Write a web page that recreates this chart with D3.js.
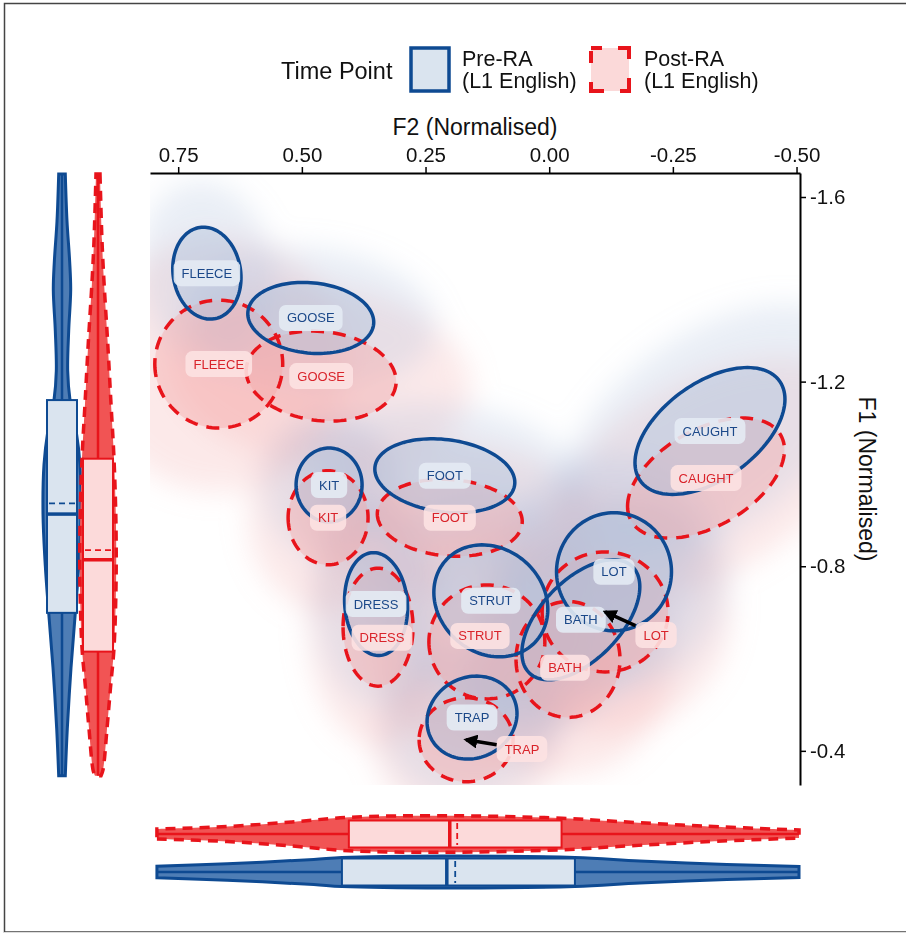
<!DOCTYPE html>
<html><head><meta charset="utf-8">
<script src="https://cdn.jsdelivr.net/npm/d3@7"></script>
<style>body{margin:0;background:#fff}svg{display:block}</style>
</head><body><svg id="c" width="906" height="934"></svg>
<script>
// ---------------- DATA ----------------
const vowels   = ["FLEECE","GOOSE","KIT","FOOT","DRESS","STRUT","LOT","BATH","TRAP","CAUGHT"];
// Pre-RA ellipses (mean F2, mean F1, sd F2, sd F1, correlation)
const preF2    = [0.692, 0.482, 0.445, 0.211, 0.350, 0.118, -0.131, -0.064, 0.156, -0.325];
const preF1    = [-1.435,-1.338,-0.976,-0.996,-0.718,-0.725,-0.788,-0.684,-0.472,-1.093];
const preSdF2  = [0.0690,0.1273,0.0667,0.1415,0.0637,0.1152,0.1162,0.1192,0.0909,0.1516];
const preSdF1  = [0.0996,0.0770,0.0801,0.0801,0.1115,0.1213,0.1278,0.1300,0.0899,0.1375];
const preRho   = [-0.10,-0.12,0.00,-0.18,-0.08,-0.15,0.00,0.55,0.10,0.50];
// Post-RA ellipses
const postF2   = [0.668, 0.461, 0.447, 0.201, 0.346, 0.126, -0.113, -0.038, 0.168, -0.317];
const postF1   = [-1.238,-1.212,-0.905,-0.905,-0.668,-0.636,-0.701,-0.598,-0.424,-0.991];
const postSdF2 = [0.1293,0.1516,0.0808,0.1465,0.0707,0.1172,0.1273,0.1051,0.0950,0.1586];
const postSdF1 = [0.1386,0.0975,0.1018,0.0834,0.1278,0.1235,0.1300,0.1256,0.0910,0.1300];
const postRho  = [0.00,-0.12,0.00,-0.10,0.00,0.00,0.00,0.00,0.00,0.47];
// Post-RA labels placed away from their means (others sit on the mean)
const postLabelVowel = ["LOT","TRAP","DRESS","STRUT","BATH"];
const postLabelF2    = [-0.216, 0.055, 0.338, 0.140, -0.032];
const postLabelF1    = [-0.651, -0.404, -0.645, -0.649, -0.580];
const postLabelArrow = [true, true, false, false, false];

// Marginal distributions: F1 (left)
const f1Grid     = [-1.650,-1.548,-1.459,-1.399,-1.310,-1.223,-1.160,-1.095,-1.020,-0.913,-0.801,-0.699,-0.580,-0.448,-0.346];
const preF1Dens  = [3.3,5.0,7.7,8.7,6.7,5.7,8.0,14.0,18.0,19.0,16.7,13.3,9.0,5.3,3.3];
const f1GridPost = [-1.650,-1.505,-1.416,-1.284,-1.152,-1.033,-0.887,-0.755,-0.623,-0.537,-0.448,-0.359,-0.346];
const postF1Dens = [2.0,4.0,6.0,9.7,13.0,16.0,18.0,18.0,16.0,12.5,9.0,5.0,3.0];
// Marginal distributions: F2 (bottom)
const f2GridPre  = [0.793,0.651,0.476,0.419,0.213,-0.052,-0.183,-0.359,-0.505];
const preF2Dens  = [5.8,8.3,12.5,14.5,16.0,14.5,11.0,7.5,5.5];
const f2GridPost = [0.793,0.651,0.520,0.405,0.213,-0.026,-0.139,-0.315,-0.505];
const postF2Dens = [5.0,7.5,12.0,16.7,18.3,15.8,12.5,7.8,4.0];
// Box statistics [Q1, median, Q3, mean]
const preF1Box  = [-1.160,-0.913,-0.699,-0.936];
const postF1Box = [-1.033,-0.814,-0.615,-0.835];
const preF2Box  = [0.419,0.207,-0.052,0.190];
const postF2Box = [0.405,0.201,-0.025,0.186];

const xTicks = [0.75,0.50,0.25,0.00,-0.25,-0.50];
const yTicks = [-1.6,-1.2,-0.8,-0.4];
const legendLabels = [["Pre-RA","(L1 English)"],["Post-RA","(L1 English)"]];

// ---------------- STYLE ----------------
const BLUE="#0e4a92", RED="#e8141b";
const FONT="'Liberation Sans', Arial, Helvetica, sans-serif";
const svg=d3.select("#c");
const x=d3.scaleLinear().domain([0.807,-0.507]).range([150,800]);
const y=d3.scaleLinear().domain([-1.652,-0.326]).range([173,785]);

// frame
svg.append("rect").attr("x",4.5).attr("y",3.5).attr("width",920).attr("height",928.5)
  .attr("fill","none").attr("stroke","#444").attr("stroke-width",1.5);
svg.append("line").attr("x1",4).attr("x2",906).attr("y1",932.5).attr("y2",932.5).attr("stroke","#ddd");

const defs=svg.append("defs");
defs.append("clipPath").attr("id","panel").append("rect").attr("x",150).attr("y",173).attr("width",650).attr("height",612);
defs.append("filter").attr("id","blur").attr("x","-50%").attr("y","-50%").attr("width","200%").attr("height","200%")
  .append("feGaussianBlur").attr("stdDeviation",14);
defs.append("marker").attr("id","arr").attr("viewBox","0 0 10 10").attr("refX",8).attr("refY",5)
  .attr("markerWidth",4).attr("markerHeight",4).attr("orient","auto")
  .append("path").attr("d","M0,0L10,5L0,10Z").attr("fill","#000");

function ellipsePts(cx,cy,sx,sy,r,k){
  const pts=[]; const s=Math.sqrt(1-r*r);
  for(let i=0;i<120;i++){const t=i/120*2*Math.PI;
    pts.push([x(cx+k*sx*Math.cos(t)), y(cy+k*sy*(r*Math.cos(t)+s*Math.sin(t)))]);}
  return pts;
}
const closed=d3.line().curve(d3.curveLinearClosed);

const pre = vowels.map((v,i)=>({v,f2:preF2[i],f1:preF1[i],sx:preSdF2[i],sy:preSdF1[i],r:preRho[i]}));
const post= vowels.map((v,i)=>({v,f2:postF2[i],f1:postF1[i],sx:postSdF2[i],sy:postSdF1[i],r:postRho[i]}));

const panel=svg.append("g").attr("clip-path","url(#panel)");
// soft haze standing in for the dense token cloud
const haze=panel.append("g").attr("filter","url(#blur)");
post.forEach(d=>haze.append("path").attr("d",closed(ellipsePts(d.f2,d.f1,d.sx,d.sy,d.r,2.0)))
  .attr("fill","#f3a9a9").attr("opacity",0.26));
pre.forEach(d=>haze.append("path").attr("d",closed(ellipsePts(d.f2,d.f1,d.sx,d.sy,d.r,2.0)))
  .attr("fill","#a9bfdc").attr("opacity",0.26));

// ellipse fills
post.forEach(d=>panel.append("path").attr("d",closed(ellipsePts(d.f2,d.f1,d.sx,d.sy,d.r,1)))
  .attr("fill","#f4a6a6").attr("fill-opacity",0.4));
pre.forEach(d=>panel.append("path").attr("d",closed(ellipsePts(d.f2,d.f1,d.sx,d.sy,d.r,1)))
  .attr("fill","#a9c0dd").attr("fill-opacity",0.4));
// outlines
post.forEach(d=>panel.append("path").attr("d",closed(ellipsePts(d.f2,d.f1,d.sx,d.sy,d.r,1)))
  .attr("fill","none").attr("stroke",RED).attr("stroke-width",3.5).attr("stroke-dasharray","13,9"));
pre.forEach(d=>panel.append("path").attr("d",closed(ellipsePts(d.f2,d.f1,d.sx,d.sy,d.r,1)))
  .attr("fill","none").attr("stroke",BLUE).attr("stroke-width",3.5));

// labels
const labG=svg.append("g");
function label(px,py,text,fill,col){
  const g=labG.append("g").attr("transform",`translate(${px},${py})`);
  const t=g.append("text").text(text).attr("text-anchor","middle").attr("dy","0.35em")
    .attr("font-family",FONT).attr("font-size",13).attr("fill",col);
  const w=t.node().getComputedTextLength()+16, h=26;
  g.insert("rect","text").attr("x",-w/2).attr("y",-h/2).attr("width",w).attr("height",h)
    .attr("rx",7).attr("fill",fill).attr("fill-opacity",0.9);
  return {w,h};
}
const arrows=[];
post.forEach(d=>{
  const k=postLabelVowel.indexOf(d.v);
  let lx=x(d.f2), ly=y(d.f1);
  if(k>=0){lx=x(postLabelF2[k]); ly=y(postLabelF1[k]);}
  const b=label(lx,ly,d.v,"#fde2e2","#d9232a");
  if(k>=0 && postLabelArrow[k]) arrows.push({lx,ly,tx:x(d.f2),ty:y(d.f1),w:b.w,h:b.h});
});
pre.forEach(d=>label(x(d.f2),y(d.f1),d.v,"#e4ebf4","#1b4889"));
arrows.forEach(a=>{
  const dx=a.tx-a.lx, dy=a.ty-a.ly;
  const t=Math.min(Math.abs(a.w/2/dx)||1e9, Math.abs(a.h/2/dy)||1e9);
  svg.append("line").attr("x1",a.lx+dx*t).attr("y1",a.ly+dy*t).attr("x2",a.tx).attr("y2",a.ty)
    .attr("stroke","#000").attr("stroke-width",3.5).attr("marker-end","url(#arr)");
});

// axes
const fmt=(d,n)=>d.toFixed(n);
const gx=svg.append("g").attr("transform","translate(0,173)")
  .call(d3.axisTop(x).tickValues(xTicks).tickFormat(d=>fmt(d,2)).tickSize(6).tickSizeOuter(0));
const gy=svg.append("g").attr("transform","translate(800,0)")
  .call(d3.axisRight(y).tickValues(yTicks).tickFormat(d=>fmt(d,1)).tickSize(6).tickSizeOuter(0));
[gx,gy].forEach(g=>{
  g.select(".domain").attr("stroke","#000").attr("stroke-width",2);
  g.selectAll(".tick line").attr("stroke","#000").attr("stroke-width",1.5);
  g.selectAll("text").attr("font-family",FONT).attr("font-size",20.5).attr("fill","#111");
});
gx.selectAll("text").attr("dy","-0.1em");
gy.selectAll("text").attr("x",10);
svg.append("text").text("F2 (Normalised)").attr("x",475).attr("y",135).attr("text-anchor","middle")
  .attr("font-family",FONT).attr("font-size",23).attr("fill","#111");
svg.append("text").text("F1 (Normalised)").attr("transform","translate(859,479) rotate(90)")
  .attr("text-anchor","middle").attr("font-family",FONT).attr("font-size",23).attr("fill","#111");

// legend
svg.append("text").text("Time Point").attr("x",281).attr("y",79).attr("font-family",FONT).attr("font-size",23.5).attr("fill","#111");
svg.append("rect").attr("x",411).attr("y",48).attr("width",38).attr("height",43).attr("fill","#dae4ef")
  .attr("stroke",BLUE).attr("stroke-width",3.5);
svg.append("rect").attr("x",591).attr("y",48).attr("width",38).attr("height",43).attr("fill","#fbd9d9")
  .attr("stroke",RED).attr("stroke-width",4).attr("stroke-dasharray","11,16,22,19,22,16,22,19,12");
legendLabels.forEach((l,i)=>{
  const tx=[462,644][i];
  l.forEach((s,j)=>svg.append("text").text(s).attr("x",tx).attr("y",66+j*22)
    .attr("font-family",FONT).attr("font-size",21.5).attr("fill","#111"));
});

// marginal violins
const wL=d3.scaleLinear().domain([0,19]).range([0,19]);
function vViolin(grid,dens,cx,fill,stroke,dash,box,boxFill){
  const data=grid.map((g,i)=>({g,d:dens[i]}));
  const area=d3.area().curve(d3.curveCatmullRom).y(d=>y(d.g)).x0(d=>cx-wL(d.d)).x1(d=>cx+wL(d.d));
  svg.append("path").attr("d",area(data)).attr("fill",fill);
  svg.append("line").attr("x1",cx).attr("x2",cx).attr("y1",y(grid[0])).attr("y2",y(grid[grid.length-1]))
    .attr("stroke",stroke).attr("stroke-width",2.5);
  svg.append("path").attr("d",area(data)).attr("fill","none").attr("stroke",stroke)
    .attr("stroke-width",dash?3.5:3).attr("stroke-dasharray",dash||null);
  svg.append("rect").attr("x",cx-15).attr("width",30).attr("y",y(box[0])).attr("height",y(box[2])-y(box[0]))
    .attr("fill",boxFill).attr("stroke",stroke).attr("stroke-width",2);
  svg.append("line").attr("x1",cx-15).attr("x2",cx+15).attr("y1",y(box[1])).attr("y2",y(box[1]))
    .attr("stroke",stroke).attr("stroke-width",3.5);
  svg.append("line").attr("x1",cx-13).attr("x2",cx+13).attr("y1",y(box[3])).attr("y2",y(box[3]))
    .attr("stroke",stroke).attr("stroke-width",1.8).attr("stroke-dasharray","6,4");
}
function hViolin(grid,dens,cy,fill,stroke,dash,box,boxFill){
  const data=grid.map((g,i)=>({g,d:dens[i]}));
  const area=d3.area().curve(d3.curveCatmullRom).x(d=>x(d.g)).y0(d=>cy-wL(d.d)).y1(d=>cy+wL(d.d));
  svg.append("path").attr("d",area(data)).attr("fill",fill);
  svg.append("line").attr("y1",cy).attr("y2",cy).attr("x1",x(grid[0])).attr("x2",x(grid[grid.length-1]))
    .attr("stroke",stroke).attr("stroke-width",2.5);
  svg.append("path").attr("d",area(data)).attr("fill","none").attr("stroke",stroke)
    .attr("stroke-width",dash?3.5:3).attr("stroke-dasharray",dash||null);
  svg.append("rect").attr("y",cy-13.5).attr("height",27).attr("x",x(box[0])).attr("width",x(box[2])-x(box[0]))
    .attr("fill",boxFill).attr("stroke",stroke).attr("stroke-width",2);
  svg.append("line").attr("y1",cy-13.5).attr("y2",cy+13.5).attr("x1",x(box[1])).attr("x2",x(box[1]))
    .attr("stroke",stroke).attr("stroke-width",3.5);
  svg.append("line").attr("y1",cy-11).attr("y2",cy+11).attr("x1",x(box[3])).attr("x2",x(box[3]))
    .attr("stroke",stroke).attr("stroke-width",1.8).attr("stroke-dasharray","6,4");
}
vViolin(f1Grid,preF1Dens,62,"#4e7db5",BLUE,null,preF1Box,"#dae4ef");
vViolin(f1GridPost,postF1Dens,98,"#f15454",RED,"10,7",postF1Box,"#fcdada");
hViolin(f2GridPost,postF2Dens,834,"#f15454",RED,"10,7",postF2Box,"#fcdada");
hViolin(f2GridPre,preF2Dens,872,"#4e7db5",BLUE,null,preF2Box,"#dae4ef");
</script></body></html>
